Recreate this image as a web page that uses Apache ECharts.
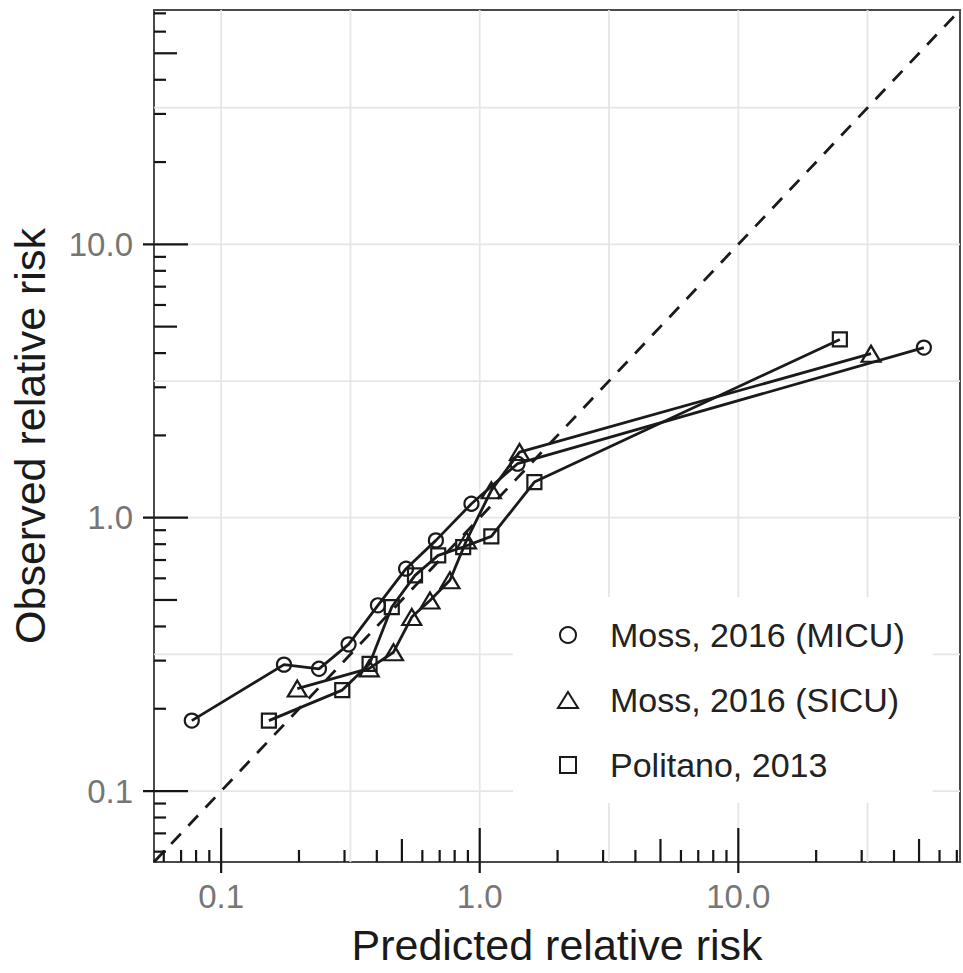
<!DOCTYPE html>
<html>
<head>
<meta charset="utf-8">
<script src="https://cdn.jsdelivr.net/npm/echarts@6/dist/echarts.min.js"></script>
<style>
html,body{margin:0;padding:0;background:#fff;}
#chart{width:963px;height:973px;}
</style>
</head>
<body>
<div id="chart"></div>
<script>
// ---- data ----
const seriesNames = ['Moss, 2016 (MICU)', 'Moss, 2016 (SICU)', 'Politano, 2013'];

const micuPredicted = [0.077, 0.175, 0.239, 0.311, 0.404, 0.519, 0.677, 0.929, 1.40, 52.2];
const micuObserved  = [0.181, 0.290, 0.280, 0.344, 0.478, 0.651, 0.826, 1.125, 1.576, 4.19];

const sicuPredicted = [0.197, 0.374, 0.464, 0.546, 0.642, 0.767, 0.889, 1.109, 1.425, 32.6];
const sicuObserved  = [0.237, 0.281, 0.322, 0.433, 0.498, 0.590, 0.826, 1.259, 1.738, 3.98];

const politanoPredicted = [0.153, 0.294, 0.375, 0.457, 0.562, 0.691, 0.863, 1.109, 1.627, 24.7];
const politanoObserved  = [0.181, 0.234, 0.292, 0.471, 0.615, 0.728, 0.781, 0.854, 1.35, 4.49];

// axis limits and tick values
const axisMin = 0.055;
const axisMax = 72;
const majorTicks = [0.1, 1, 10];
const majorTickLabels = ['0.1', '1.0', '10.0'];
const midTicks = [0.5, 5, 50];
const minorTicks = [0.06, 0.07, 0.08, 0.09, 0.2, 0.3, 0.4, 0.6, 0.7, 0.8, 0.9,
                    2, 3, 4, 6, 7, 8, 9, 20, 30, 40, 60, 70];
const gridBreaks = [0.1, 0.3162, 1, 3.162, 10, 31.62];

// ---- styling ----
const font = '"Liberation Sans", Arial, Helvetica, sans-serif';
const ink = '#1a1a1a';
const frame = '#4a4a4a';
const gridColor = '#e6e6e6';

function pairs(xs, ys) { return xs.map((x, i) => [x, ys[i]]); }
function near(a, b) { return Math.abs(Math.log10(a / b)) < 1e-6; }
function tickLabel(v) {
  const i = majorTicks.findIndex(t => near(v, t));
  return i >= 0 ? majorTickLabels[i] : '';
}
function tickKind(v) {
  if (majorTicks.some(t => near(v, t))) return 'major';
  if (midTicks.some(t => near(v, t))) return 'mid';
  return 'minor';
}
const inLen = { major: 34, mid: 23, minor: 12 };
const outLen = { major: 11, mid: 0, minor: 0 };
const allTicks = majorTicks.concat(midTicks, minorTicks).filter(v => v >= axisMin && v <= axisMax);

const markerDefs = [
  { name: seriesNames[0], symbol: 'circle', size: 14, xs: micuPredicted, ys: micuObserved },
  { name: seriesNames[1], symbol: 'triangle', size: [19, 16], xs: sicuPredicted, ys: sicuObserved },
  { name: seriesNames[2], symbol: 'rect', size: 14, xs: politanoPredicted, ys: politanoObserved }
];

const dataSeries = markerDefs.map(d => ({
  type: 'line',
  name: d.name,
  data: pairs(d.xs, d.ys),
  symbol: d.symbol,
  symbolSize: d.size,
  showAllSymbol: true,
  lineStyle: { color: ink, width: 2.8 },
  itemStyle: { color: 'rgba(0,0,0,0)', borderColor: ink, borderWidth: 2.2 },
  emphasis: { disabled: true },
  z: 3
}));

const legendIconStyle = { color: '#ffffff', borderColor: ink, borderWidth: 2 };

const chart = echarts.init(document.getElementById('chart'), null, { renderer: 'svg' });

const axisCommon = {
  type: 'log',
  logBase: 10,
  min: axisMin,
  max: axisMax,
  nameLocation: 'middle',
  nameTextStyle: { fontFamily: font, fontSize: 43, color: '#1a1a1a' },
  axisLine: { show: true, lineStyle: { color: frame, width: 2 } },
  axisTick: { show: false },
  minorTick: { show: false },
  splitLine: { show: false },
  minorSplitLine: { show: false },
  axisLabel: { formatter: tickLabel, fontFamily: font, fontSize: 33, color: '#767676' }
};

const option = {
  animation: false,
  backgroundColor: '#ffffff',
  grid: {
    left: 153, top: 10, width: 807, height: 852,
    show: true, borderColor: frame, borderWidth: 2, backgroundColor: 'transparent',
    containLabel: false
  },
  xAxis: Object.assign({}, axisCommon, {
    name: 'Predicted relative risk',
    nameGap: 61,
    axisLabel: Object.assign({}, axisCommon.axisLabel, { margin: 18 })
  }),
  yAxis: Object.assign({}, axisCommon, {
    name: 'Observed relative risk',
    nameGap: 103,
    axisLabel: Object.assign({}, axisCommon.axisLabel, { margin: 21 })
  }),
  legend: {
    orient: 'vertical',
    left: 513,
    top: 597,
    padding: [18, 28, 18, 44],
    backgroundColor: '#ffffff',
    itemWidth: 20,
    itemHeight: 16,
    itemGap: 25,
    selectedMode: false,
    textStyle: { fontFamily: font, fontSize: 34, color: '#222222', lineHeight: 40, padding: [0, 0, 0, 27] },
    data: [
      { name: seriesNames[0], icon: 'circle', itemStyle: legendIconStyle },
      { name: seriesNames[1], icon: 'triangle', itemStyle: legendIconStyle },
      { name: seriesNames[2], icon: 'path://M0,0L10,0L10,10L0,10Z', itemStyle: legendIconStyle }
    ]
  },
  series: [
    {
      type: 'custom', name: 'gridlines', silent: true, z: 1, clip: false,
      data: gridBreaks.map(v => [v, v]),
      renderItem: function (params, api) {
        const cs = params.coordSys;
        const p = api.coord([api.value(0), api.value(1)]);
        const st = { stroke: gridColor, lineWidth: 1.8 };
        return {
          type: 'group',
          children: [
            { type: 'line', shape: { x1: p[0], y1: cs.y, x2: p[0], y2: cs.y + cs.height }, style: st },
            { type: 'line', shape: { x1: cs.x, y1: p[1], x2: cs.x + cs.width, y2: p[1] }, style: st }
          ]
        };
      }
    },
    {
      type: 'line', name: 'identity', silent: true, z: 2,
      data: [[axisMin, axisMin], [axisMax, axisMax]],
      symbol: 'none',
      lineStyle: { color: ink, width: 2.8, type: [14, 11] }
    }
  ].concat(dataSeries, [
    {
      type: 'custom', name: 'xticks', silent: true, z: 6, clip: false,
      data: allTicks.map(v => [v, 1]),
      renderItem: function (params, api) {
        const cs = params.coordSys;
        const v = api.value(0);
        const k = tickKind(v);
        const px = api.coord([v, 1])[0];
        const y0 = cs.y + cs.height;
        return { type: 'line', shape: { x1: px, y1: y0 + outLen[k], x2: px, y2: y0 - inLen[k] },
                 style: { stroke: '#151515', lineWidth: 2.2 } };
      }
    },
    {
      type: 'custom', name: 'yticks', silent: true, z: 6, clip: false,
      data: allTicks.map(v => [1, v]),
      renderItem: function (params, api) {
        const cs = params.coordSys;
        const v = api.value(1);
        const k = tickKind(v);
        const py = api.coord([1, v])[1];
        const x0 = cs.x;
        return { type: 'line', shape: { x1: x0 - outLen[k], y1: py, x2: x0 + inLen[k], y2: py },
                 style: { stroke: '#151515', lineWidth: 2.2 } };
      }
    }
  ])
};

chart.setOption(option);
</script>
</body>
</html>
